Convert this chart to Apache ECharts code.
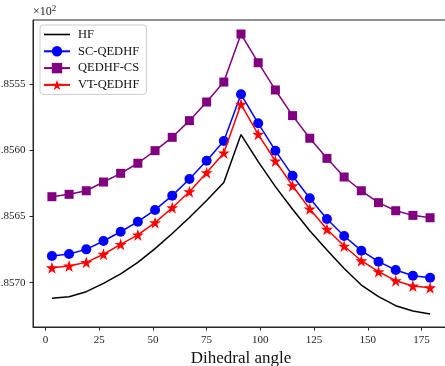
<!DOCTYPE html>
<html>
<head>
<meta charset="utf-8">
<script src="https://cdn.jsdelivr.net/npm/echarts@6/dist/echarts.min.js"></script>
<style>
  html, body { margin: 0; padding: 0; background: #fff; }
  #chart { width: 445px; height: 366px; }
</style>
</head>
<body>
<div id="chart"></div>
<script>
// Dihedral scan, energies in units of 10^2 Hartree
const angles = [3, 11, 19, 27, 35, 43, 51, 59, 67, 75, 83, 91, 99, 107, 115, 123, 131, 139, 147, 155, 163, 171, 179];

const hf = [-1.857118, -1.857106, -1.857068, -1.857005, -1.856934, -1.856847, -1.856742, -1.856628,
  -1.856507, -1.856379, -1.856243, -1.855880, -1.856085, -1.856274, -1.856445, -1.856607,
  -1.856753, -1.856893, -1.857018, -1.857106, -1.857174, -1.857214, -1.857237];

const scQedhf = [-1.856798, -1.856783, -1.856748, -1.856685, -1.856615, -1.856539, -1.856450, -1.856342,
  -1.856216, -1.856078, -1.855929, -1.855576, -1.855795, -1.856002, -1.856191, -1.856362,
  -1.856518, -1.856647, -1.856758, -1.856841, -1.856904, -1.856947, -1.856962];

const qedhfCs = [-1.856350, -1.856332, -1.856305, -1.856239, -1.856173, -1.856097, -1.856002, -1.855901,
  -1.855775, -1.855634, -1.855483, -1.855120, -1.855337, -1.855543, -1.855737, -1.855908,
  -1.856060, -1.856201, -1.856305, -1.856395, -1.856456, -1.856491, -1.856509];

const vtQedhf = [-1.856887, -1.856874, -1.856846, -1.856785, -1.856710, -1.856639, -1.856546, -1.856433,
  -1.856312, -1.856168, -1.856019, -1.855651, -1.855878, -1.856080, -1.856267, -1.856443,
  -1.856596, -1.856723, -1.856834, -1.856917, -1.856985, -1.857025, -1.857038];

const xTicks = [0, 25, 50, 75, 100, 125, 150, 175];
const yTicks = [-1.8570, -1.8565, -1.8560, -1.8555];

const STAR = 'path://M50,0 L61.2,34.5 L97.6,34.5 L68.2,55.9 L79.4,90.5 L50,69.1 L20.6,90.5 L31.8,55.9 L2.4,34.5 L38.8,34.5 Z';
const LINE_ICON = 'path://M0,0 L26,0 L26,1.6 L0,1.6 Z';
const serif = '"Liberation Serif", "DejaVu Serif", serif';

function pairs(ys) { return angles.map((a, i) => [a, ys[i]]); }

const chart = echarts.init(document.getElementById('chart'), null, { renderer: 'canvas' });

chart.setOption({
  animation: false,
  backgroundColor: '#fff',
  grid: {
    left: 33, top: 20, bottom: 39, right: -4,
    outerBoundsMode: 'none', containLabel: false,
    show: true, borderColor: '#262626', borderWidth: 1, backgroundColor: 'transparent'
  },
  graphic: [{
    type: 'text', left: 33, top: 4,
    style: {
      text: '×10{s|2}', font: '12px ' + serif, fill: '#222',
      rich: { s: { fontSize: 9, verticalAlign: 'top', padding: [0, 0, 6, 0], fontFamily: serif, fill: '#222' } }
    }
  }],
  legend: {
    orient: 'vertical', left: 40, top: 25,
    data: [{ name: 'HF', icon: LINE_ICON }, 'SC-QEDHF', 'QEDHF-CS', 'VT-QEDHF'],
    itemWidth: 26, itemHeight: 13, itemGap: 3.8,
    padding: [3, 7, 3, 3],
    backgroundColor: 'rgba(255,255,255,0.85)',
    borderColor: '#cccccc', borderWidth: 1, borderRadius: 3,
    textStyle: { fontFamily: serif, fontSize: 12.5, color: '#111', padding: [0, 0, 0, 3] }
  },
  xAxis: {
    type: 'value', min: -5.8, max: 187.8,
    name: 'Dihedral angle', nameLocation: 'middle', nameGap: 22,
    nameTextStyle: { fontFamily: serif, fontSize: 17, color: '#111' },
    axisLine: { show: true, onZero: false, lineStyle: { color: '#262626', width: 1 } },
    axisTick: { show: true, length: 3.5, customValues: xTicks, lineStyle: { color: '#262626' } },
    axisLabel: { customValues: xTicks, fontFamily: serif, fontSize: 11, color: '#222', margin: 7.5 },
    splitLine: { show: false }
  },
  yAxis: {
    type: 'value', min: -1.857335, max: -1.855014,
    axisLine: { show: true, onZero: false, lineStyle: { color: '#262626', width: 1 } },
    axisTick: { show: true, length: 3.5, customValues: yTicks, lineStyle: { color: '#262626' } },
    axisLabel: {
      customValues: yTicks, fontFamily: serif, fontSize: 11, color: '#222', margin: 7.5,
      formatter: v => { const s = v.toFixed(4); return s.slice(s.indexOf('.')); }
    },
    splitLine: { show: false }
  },
  series: [
    {
      name: 'HF', type: 'line', data: pairs(hf), showSymbol: false, symbol: 'none',
      lineStyle: { color: '#000', width: 1.5 }, itemStyle: { color: '#000' }, z: 2
    },
    {
      name: 'SC-QEDHF', type: 'line', data: pairs(scQedhf), symbol: 'circle', symbolSize: 10,
      lineStyle: { color: '#0000ff', width: 1.5 }, itemStyle: { color: '#0000ff' }, z: 3
    },
    {
      name: 'QEDHF-CS', type: 'line', data: pairs(qedhfCs), symbol: 'rect', symbolSize: 9,
      lineStyle: { color: '#800080', width: 1.5 }, itemStyle: { color: '#800080' }, z: 4
    },
    {
      name: 'VT-QEDHF', type: 'line', data: pairs(vtQedhf), symbol: STAR, symbolSize: 12,
      lineStyle: { color: '#ff0000', width: 1.5 }, itemStyle: { color: '#ff0000' }, z: 5
    }
  ]
});
</script>
</body>
</html>
